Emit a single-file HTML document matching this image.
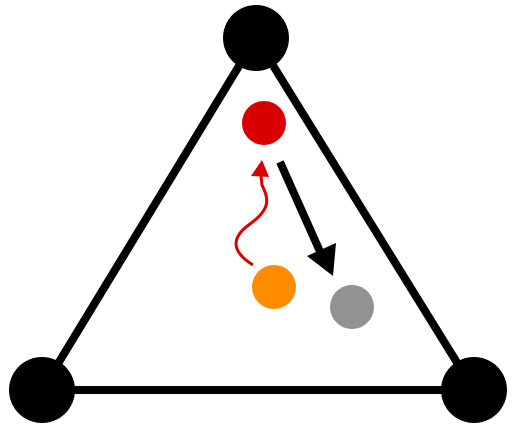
<!DOCTYPE html>
<html><head><meta charset="utf-8"><style>html,body{margin:0;padding:0;background:#fff}svg{display:block}</style></head>
<body>
<svg width="513" height="434" viewBox="0 0 513 434">
<g stroke="#000" stroke-width="8" fill="none" stroke-linejoin="round">
<polygon points="256,38 42,390 474,390"/>
</g>
<circle cx="256" cy="38" r="33" fill="#000"/>
<circle cx="42" cy="390" r="33" fill="#000"/>
<circle cx="474" cy="390" r="33" fill="#000"/>
<circle cx="264" cy="123" r="22" fill="#d90000"/>
<circle cx="274" cy="287" r="22" fill="#ff8c00"/>
<circle cx="352" cy="307" r="22" fill="#929292"/>
<g>
<line x1="280" y1="162" x2="322" y2="256" stroke="#000" stroke-width="8"/>
<polygon points="333,276 307,256 336,243" fill="#000"/>
</g>
<g>
<path d="M253,265 C232,252 230,238 250,224 C272,208 268,198 262,185 L261,176" stroke="#d90000" stroke-width="3" fill="none"/>
<polygon points="262,160 251,176 269,177" fill="#d90000"/>
</g>
</svg>
</body></html>
